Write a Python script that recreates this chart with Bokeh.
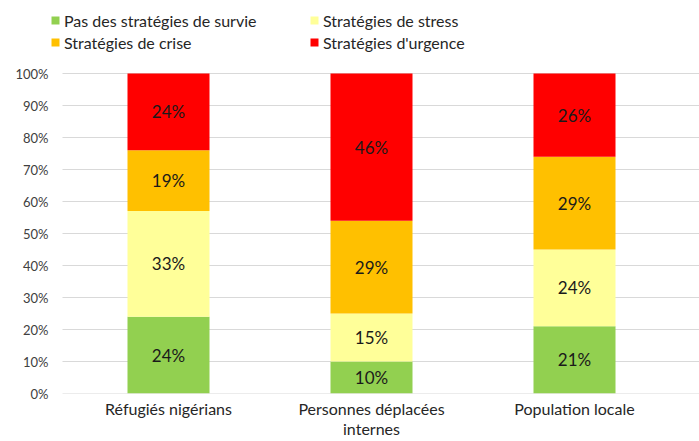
from bokeh.plotting import figure
from bokeh.models import ColumnDataSource, Range1d, FixedTicker, NumeralTickFormatter, Legend, LegendItem
from bokeh.core.properties import value
from bokeh.embed import file_html
from bokeh.resources import INLINE

categories = ["Réfugiés nigérians", "Personnes déplacées internes", "Population locale"]
category_labels = ["Réfugiés nigérians", "Personnes déplacées\ninternes", "Population locale"]
series_names = ["Pas des stratégies de survie", "Stratégies de stress", "Stratégies de crise", "Stratégies d'urgence"]
series_colors = ["#92D050", "#FFFF99", "#FFC000", "#FF0000"]
pas_survie = [24, 10, 21]
stress = [33, 15, 24]
crise = [19, 29, 29]
urgence = [24, 46, 26]
y_ticks = [0, 10, 20, 30, 40, 50, 60, 70, 80, 90, 100]

FONT = "Lato"
keys = ["s0", "s1", "s2", "s3"]
series = [pas_survie, stress, crise, urgence]
xs = list(range(len(categories)))
data = {"x": xs}
for k, s in zip(keys, series):
    data[k] = [v / 100 for v in s]
source = ColumnDataSource(data)

# layout geometry (pixels)
W, H = 699, 441
FRAME_LEFT, FRAME_BOTTOM_BORDER = 48, 48
PX_PER_CAT = 203.0          # horizontal spacing between bar centres
FIRST_CENTER_PX = 168.0
GRID_LEFT_PX = 62.0
PX_PER_UNIT_Y = 320.0       # 0%..100% height
frame_h = H - FRAME_BOTTOM_BORDER

x_start = -(FIRST_CENTER_PX - FRAME_LEFT) / PX_PER_CAT
x_end = x_start + (W - FRAME_LEFT) / PX_PER_CAT
y_end = frame_h / PX_PER_UNIT_Y   # space above 100% holds the legend

p = figure(width=W, height=H, output_backend="svg", toolbar_location=None,
           x_range=Range1d(x_start, x_end), y_range=Range1d(0, y_end),
           min_border_left=FRAME_LEFT, min_border_right=0, min_border_top=0,
           min_border_bottom=FRAME_BOTTOM_BORDER)
p.outline_line_color = None
p.background_fill_color = "white"
p.border_fill_color = "white"

# horizontal gridlines at the tick values, starting a little right of the labels
grid_x0 = x_start + (GRID_LEFT_PX - FRAME_LEFT) / PX_PER_CAT
gy = [t / 100 for t in y_ticks]
p.segment(x0=[grid_x0] * len(gy), y0=gy, x1=[x_end] * len(gy), y1=gy,
          line_color="#D9D9D9", line_width=1)

renderers = p.vbar_stack(keys, x="x", width=0.404, color=series_colors, line_color=None,
                         source=source)

# data labels
lx, ly, lt = [], [], []
for i in xs:
    cum = 0
    for s in series:
        v = s[i]
        lx.append(i)
        ly.append((cum + v / 2) / 100)
        lt.append(f"{v}%")
        cum += v
p.text(x=lx, y=ly, text=lt, text_align="center", text_baseline="middle",
       text_font=value(FONT), text_font_size="17px", text_color="#1a1a1a")

# axes
p.yaxis.ticker = FixedTicker(ticks=gy)
p.yaxis.formatter = NumeralTickFormatter(format="0%")
p.yaxis.axis_line_color = None
p.yaxis.major_tick_line_color = None
p.yaxis.minor_tick_line_color = None
p.yaxis.major_tick_out = 0
p.yaxis.major_tick_in = 0
p.yaxis.major_label_standoff = 0
p.yaxis.major_label_text_font = FONT
p.yaxis.major_label_text_font_size = "13px"
p.yaxis.major_label_text_color = "#404040"

p.xaxis.ticker = FixedTicker(ticks=xs)
p.xaxis.major_label_overrides = {i: lab for i, lab in zip(xs, category_labels)}
p.xaxis.axis_line_color = None
p.xaxis.major_tick_line_color = None
p.xaxis.minor_tick_line_color = None
p.xaxis.major_tick_out = 0
p.xaxis.major_tick_in = 0
p.xaxis.major_label_standoff = 5
p.xaxis.major_label_text_line_height = 1.1
p.xaxis.major_label_text_font = FONT
p.xaxis.major_label_text_font_size = "16px"
p.xaxis.major_label_text_color = "#262626"

p.xgrid.grid_line_color = None
p.ygrid.grid_line_color = None

# legend: fills column by column -> left column green/orange, right column yellow/red
order = [0, 2, 1, 3]
items = [LegendItem(label=series_names[i], renderers=[renderers[i]]) for i in order]
leg = Legend(items=items, ncols=2, location=(2, 340))
leg.border_line_color = None
leg.background_fill_alpha = 0
leg.padding = 0
leg.margin = 0
leg.spacing = 0
leg.glyph_width = 10
leg.glyph_height = 10
leg.label_height = 22
leg.label_standoff = 4
leg.label_width = 245
leg.label_text_font = FONT
leg.label_text_font_size = "16px"
leg.label_text_color = "#262626"
p.add_layout(leg, "center")

open("out.html", "w").write(file_html(p, INLINE))
